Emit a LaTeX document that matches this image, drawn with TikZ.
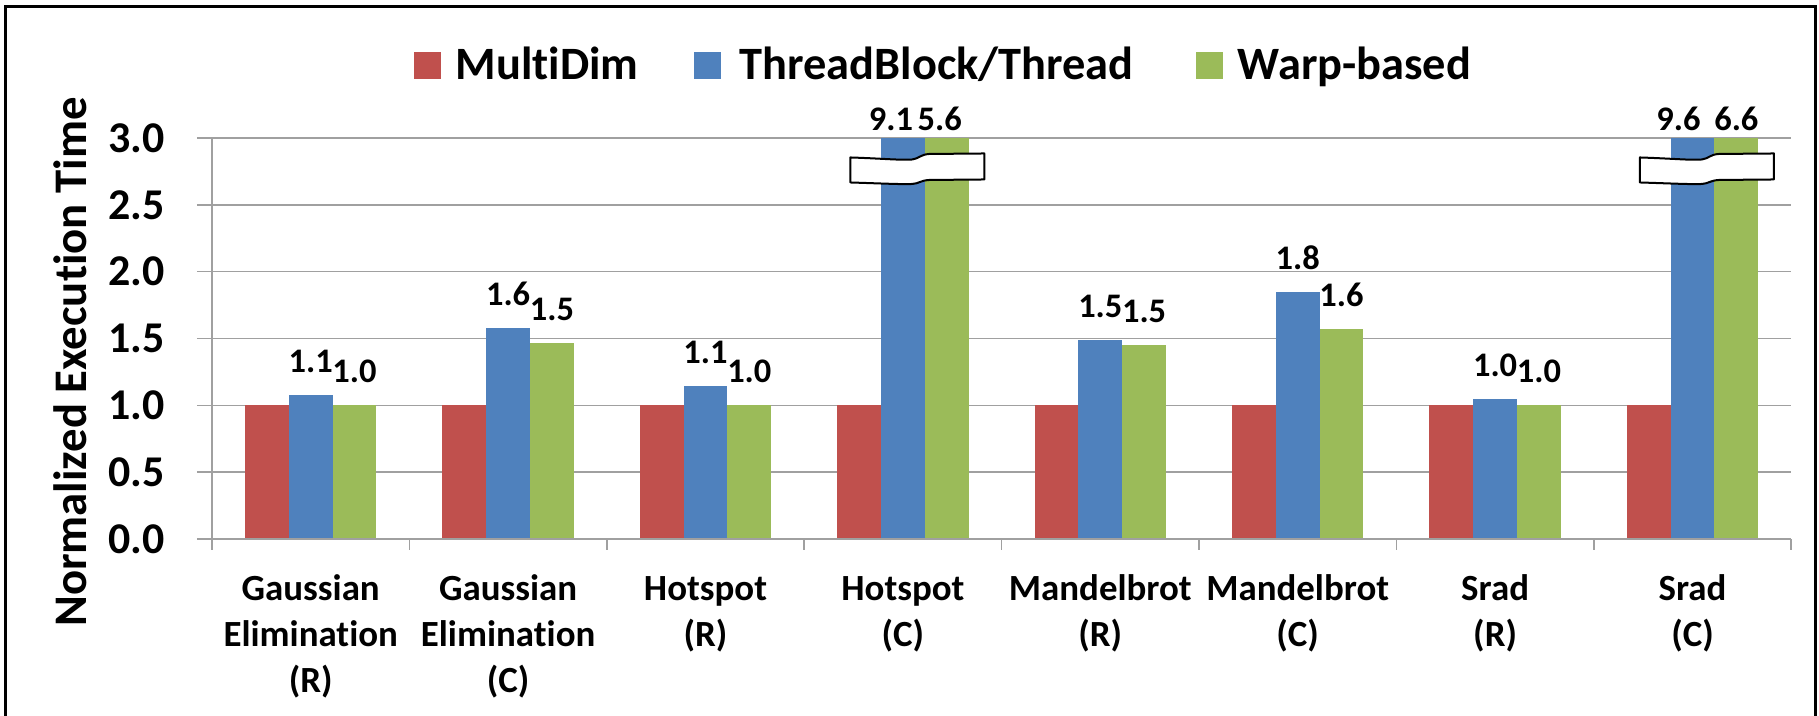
\documentclass[tikz,border=0pt]{standalone}
\usepackage{fontspec}
\setmainfont{Carlito}[RawFeature=-liga, RawFeature=-clig, RawFeature=-calt]
\definecolor{mdred}{HTML}{C0504D}
\definecolor{tbblue}{HTML}{4F81BD}
\definecolor{wbgreen}{HTML}{9BBB59}
\definecolor{axisgray}{HTML}{A0A0A0}
\begin{document}
\begin{tikzpicture}[
  gridline/.style={draw=axisgray, line width=0.015cm},
  barlabel/.style={font=\bfseries\fontsize{9.8}{11}\selectfont, inner sep=0pt, anchor=south},
  onbar/.style={barlabel, yshift=0.215cm},
  ontop/.style={barlabel, yshift=0.065cm},
  ticklabel/.style={font=\bfseries\fontsize{12.5}{15}\selectfont, inner sep=0pt, anchor=east, xshift=-0.47cm},
  catlabel/.style={font=\bfseries\fontsize{10.5}{13}\selectfont, inner sep=0pt, anchor=north, align=center, yshift=-0.29cm},
  legtext/.style={font=\bfseries\fontsize{13.2}{16}\selectfont, inner sep=0pt, anchor=base west},
  axisbreak/.style={draw=black, fill=white, line width=0.02cm, line join=round}
]
\useasboundingbox (0,0) rectangle (18.19,7.15);

% Outer frame (open at the bottom)
\draw[line width=0.03cm] (0.05,-0.2) -- (0.05,7.09) -- (18.15,7.09) -- (18.15,-0.2);

% Legend
\fill[mdred] (4.14,6.36) rectangle (4.41,6.63);
\node[legtext] (leg-md) at (4.55,6.36) {MultiDim};
\fill[tbblue] (6.94,6.36) rectangle (7.21,6.63);
\node[legtext] (leg-tb) at (7.39,6.36) {ThreadBlock/Thread};
\fill[wbgreen] (11.96,6.36) rectangle (12.23,6.63);
\node[legtext] (leg-wb) at (12.37,6.36) {Warp-based};

% Y axis title
\node[rotate=90, anchor=south, inner sep=0pt, font=\bfseries\fontsize{13.3}{16}\selectfont] (ytitle) at (0.88,3.53) {Normalized Execution Time};

% Plot area: one unit in x is one benchmark, one unit in y is 1.0
\begin{scope}[shift={(2.12,1.76)}, x=1.974cm, y=1.3367cm]

% Grid lines and tick labels
\draw[gridline] (-0.076,0.5) -- (8,0.5);
\draw[gridline] (-0.076,1.0) -- (8,1.0);
\draw[gridline] (-0.076,1.5) -- (8,1.5);
\draw[gridline] (-0.076,2.0) -- (8,2.0);
\draw[gridline] (-0.076,2.5) -- (8,2.5);
\draw[gridline] (-0.076,3.0) -- (8,3.0);
\node[ticklabel] (t0) at (0,0.0) {0.0};
\node[ticklabel] (t1) at (0,0.5) {0.5};
\node[ticklabel] (t2) at (0,1.0) {1.0};
\node[ticklabel] (t3) at (0,1.5) {1.5};
\node[ticklabel] (t4) at (0,2.0) {2.0};
\node[ticklabel] (t5) at (0,2.5) {2.5};
\node[ticklabel] (t6) at (0,3.0) {3.0};

% Gaussian Elimination (R)
\fill[mdred] (0.167,0) rectangle (0.389,1.0);
\fill[tbblue] (0.389,0) rectangle (0.611,1.077);
\fill[wbgreen] (0.611,0) rectangle (0.833,1.0);
% Gaussian Elimination (C)
\fill[mdred] (1.167,0) rectangle (1.389,1.0);
\fill[tbblue] (1.389,0) rectangle (1.611,1.58);
\fill[wbgreen] (1.611,0) rectangle (1.833,1.465);
% Hotspot (R)
\fill[mdred] (2.167,0) rectangle (2.389,1.0);
\fill[tbblue] (2.389,0) rectangle (2.611,1.147);
\fill[wbgreen] (2.611,0) rectangle (2.833,1.0);
% Hotspot (C)
\fill[mdred] (3.167,0) rectangle (3.389,1.0);
\fill[tbblue] (3.389,0) rectangle (3.611,3.0);
\fill[wbgreen] (3.611,0) rectangle (3.833,3.0);
% Mandelbrot (R)
\fill[mdred] (4.167,0) rectangle (4.389,1.0);
\fill[tbblue] (4.389,0) rectangle (4.611,1.489);
\fill[wbgreen] (4.611,0) rectangle (4.833,1.455);
% Mandelbrot (C)
\fill[mdred] (5.167,0) rectangle (5.389,1.0);
\fill[tbblue] (5.389,0) rectangle (5.611,1.85);
\fill[wbgreen] (5.611,0) rectangle (5.833,1.569);
% Srad (R)
\fill[mdred] (6.167,0) rectangle (6.389,1.0);
\fill[tbblue] (6.389,0) rectangle (6.611,1.045);
\fill[wbgreen] (6.611,0) rectangle (6.833,1.0);
% Srad (C)
\fill[mdred] (7.167,0) rectangle (7.389,1.0);
\fill[tbblue] (7.389,0) rectangle (7.611,3.0);
\fill[wbgreen] (7.611,0) rectangle (7.833,3.0);

% Axes and category ticks
\draw[gridline] (-0.076,0) -- (8,0);
\draw[gridline] (0,-0.082) -- (0,3);
\draw[gridline] (1,0) -- (1,-0.082);
\draw[gridline] (2,0) -- (2,-0.082);
\draw[gridline] (3,0) -- (3,-0.082);
\draw[gridline] (4,0) -- (4,-0.082);
\draw[gridline] (5,0) -- (5,-0.082);
\draw[gridline] (6,0) -- (6,-0.082);
\draw[gridline] (7,0) -- (7,-0.082);
\draw[gridline] (8,0) -- (8,-0.082);

% Break marks on the clipped bars
\begin{scope}[shift={(3.573,2.772)}, x=1cm, y=1cm]
\draw[axisbreak] (-0.67,0.11) .. controls (-0.35,0.10) and (-0.15,0.08) .. (-0.05,0.09)
  .. controls (0.02,0.10) and (0.03,0.14) .. (0.12,0.145) -- (0.67,0.15) -- (0.67,-0.11)
  -- (0.12,-0.115) .. controls (0.03,-0.12) and (0.02,-0.15) .. (-0.05,-0.155)
  .. controls (-0.15,-0.16) and (-0.35,-0.15) .. (-0.67,-0.14) -- cycle;
\end{scope}
\begin{scope}[shift={(7.573,2.772)}, x=1cm, y=1cm]
\draw[axisbreak] (-0.67,0.11) .. controls (-0.35,0.10) and (-0.15,0.08) .. (-0.05,0.09)
  .. controls (0.02,0.10) and (0.03,0.14) .. (0.12,0.145) -- (0.67,0.15) -- (0.67,-0.11)
  -- (0.12,-0.115) .. controls (0.03,-0.12) and (0.02,-0.15) .. (-0.05,-0.155)
  .. controls (-0.15,-0.16) and (-0.35,-0.15) .. (-0.67,-0.14) -- cycle;
\end{scope}

% Value labels
\node[onbar] (geR-tb) at (0.5,1.077) {1.1};
\node[onbar] (geR-wb) at (0.722,1.0) {1.0};
\node[onbar] (geC-tb) at (1.5,1.58) {1.6};
\node[onbar] (geC-wb) at (1.722,1.465) {1.5};
\node[onbar] (hsR-tb) at (2.5,1.147) {1.1};
\node[onbar] (hsR-wb) at (2.722,1.0) {1.0};
\node[ontop, xshift=-0.12cm] (hsC-tb) at (3.5,3.0) {9.1};
\node[ontop, xshift=-0.07cm] (hsC-wb) at (3.722,3.0) {5.6};
\node[onbar] (mbR-tb) at (4.5,1.489) {1.5};
\node[onbar] (mbR-wb) at (4.722,1.455) {1.5};
\node[onbar] (mbC-tb) at (5.5,1.85) {1.8};
\node[onbar] (mbC-wb) at (5.722,1.569) {1.6};
\node[onbar] (srR-tb) at (6.5,1.045) {1.0};
\node[onbar] (srR-wb) at (6.722,1.0) {1.0};
\node[ontop, xshift=-0.14cm] (srC-tb) at (7.5,3.0) {9.6};
\node[ontop] (srC-wb) at (7.722,3.0) {6.6};

% Category labels
\node[catlabel] (cat1) at (0.5,0) {\strut Gaussian\\Elimination\\(R)};
\node[catlabel] (cat2) at (1.5,0) {\strut Gaussian\\Elimination\\(C)};
\node[catlabel] (cat3) at (2.5,0) {\strut Hotspot\\(R)};
\node[catlabel] (cat4) at (3.5,0) {\strut Hotspot\\(C)};
\node[catlabel] (cat5) at (4.5,0) {\strut Mandelbrot\\(R)};
\node[catlabel] (cat6) at (5.5,0) {\strut Mandelbrot\\(C)};
\node[catlabel] (cat7) at (6.5,0) {\strut Srad\\(R)};
\node[catlabel] (cat8) at (7.5,0) {\strut Srad\\(C)};
\end{scope}
\end{tikzpicture}
\end{document}
